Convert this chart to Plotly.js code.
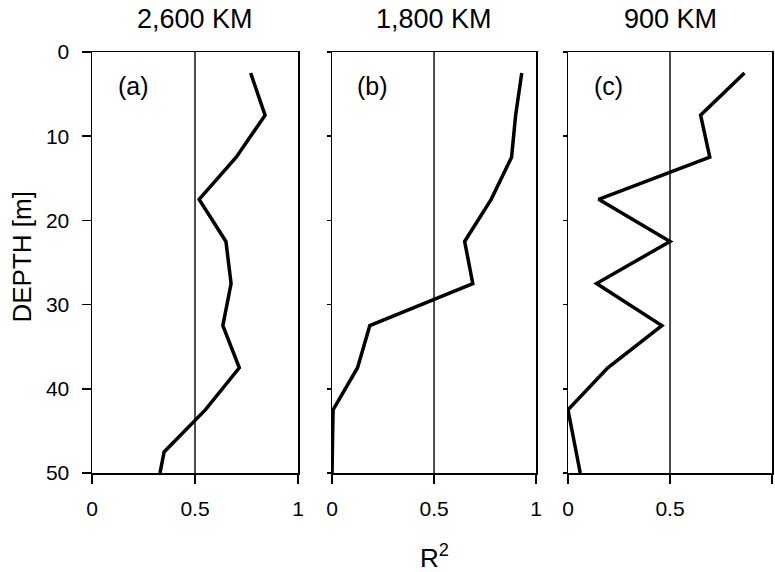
<!DOCTYPE html>
<html>
<head>
<meta charset="utf-8">
<script src="https://cdn.plot.ly/plotly-3.0.1.min.js"></script>
<style>html,body{margin:0;padding:0;background:#fff;}#chart{width:775px;height:572px;}</style>
</head>
<body>
<div id="chart"></div>
<script>
// Depth of each sample [m]
const depth = [2.5, 7.5, 12.5, 17.5, 22.5, 27.5, 32.5, 37.5, 42.5, 47.5, 50];
// R^2 per panel
const r2_2600 = [0.77, 0.84, 0.70, 0.52, 0.65, 0.675, 0.635, 0.715, 0.55, 0.35, 0.33];
const r2_1800 = [0.93, 0.90, 0.88, 0.78, 0.65, 0.69, 0.185, 0.125, 0.005, 0.0, 0.0];
const r2_900  = [0.865, 0.65, 0.695, 0.15, 0.50, 0.14, 0.46, 0.195, 0.0, 0.04, 0.06];
const panelTitles = ["2,600 KM", "1,800 KM", "900 KM"];
const panelLabels = ["(a)", "(b)", "(c)"];
const yTicks = [0, 10, 20, 30, 40, 50];
const xTicks = [0, 0.5, 1];
const xTickText = ["0", "0.5", "1"];
const refR2 = 0.5;

const FONT = "Arial, 'Liberation Sans', Helvetica, sans-serif";
const series = [r2_2600, r2_1800, r2_900];
const domains = [[0, 0.303], [0.353, 0.653], [0.7, 1.0]];

const traces = series.map((vals, i) => ({
  x: vals, y: depth, type: 'scatter', mode: 'lines',
  xaxis: i === 0 ? 'x' : 'x' + (i + 1),
  yaxis: i === 0 ? 'y' : 'y' + (i + 1),
  line: {color: '#000', width: 3.5},
  showlegend: false, hoverinfo: 'skip'
}));

const layout = {
  width: 775, height: 572,
  margin: {l: 92, r: 3, t: 52, b: 99},
  paper_bgcolor: '#fff', plot_bgcolor: '#fff',
  font: {family: FONT, size: 21, color: '#000'},
  showlegend: false,
  annotations: [], shapes: []
};

for (let i = 0; i < 3; i++) {
  const xs = i === 0 ? '' : String(i + 1);
  layout['xaxis' + xs] = {
    domain: domains[i], anchor: 'y' + xs, range: [0, 1],
    tickvals: xTicks, ticktext: xTickText, ticks: 'outside', ticklen: 9, tickwidth: 1.5,
    tickcolor: '#000', showline: true, linecolor: '#000', linewidth: 1.5, mirror: true,
    showgrid: false, zeroline: false, ticklabelstandoff: 7,
    tickfont: {family: FONT, size: 21, color: '#000'}
  };
  layout['yaxis' + xs] = {
    anchor: 'x' + xs, range: [50, 0], tickvals: yTicks,
    showticklabels: i === 0, ticks: 'outside', ticklen: i === 0 ? 9 : 4, tickwidth: 1.5,
    tickcolor: '#000', showline: true, linecolor: '#000', linewidth: 1.5, mirror: true,
    showgrid: false, zeroline: false, ticklabelstandoff: 8,
    tickfont: {family: FONT, size: 21, color: '#000'}
  };
  layout.shapes.push({
    type: 'line', xref: 'x' + xs, yref: 'y' + xs + ' domain',
    x0: refR2, x1: refR2, y0: 0, y1: 1, line: {color: '#000', width: 1.4}
  });
  layout.annotations.push({
    text: panelTitles[i], xref: 'x' + xs + ' domain', yref: 'paper',
    x: 0.5, y: 1, yshift: 33, xanchor: 'center', yanchor: 'middle', showarrow: false,
    font: {family: FONT, size: 27, color: '#000'}
  });
  layout.annotations.push({
    text: panelLabels[i], xref: 'x' + xs + ' domain', yref: 'y' + xs + ' domain',
    x: 0.2, y: 1, yshift: -34, xanchor: 'center', yanchor: 'middle', showarrow: false,
    font: {family: FONT, size: 25, color: '#000'}
  });
}

layout.annotations.push({
  text: 'R<sup>2</sup>', xref: 'x2 domain', yref: 'paper', x: 0.5, y: 0, yshift: -83,
  xanchor: 'center', yanchor: 'middle', showarrow: false,
  font: {family: FONT, size: 26, color: '#000'}
});
layout.annotations.push({
  text: 'DEPTH [m]', xref: 'paper', yref: 'paper', x: 0, xshift: -71, y: 0.5, yshift: 5,
  xanchor: 'center', yanchor: 'middle', textangle: -90, showarrow: false,
  font: {family: FONT, size: 26, color: '#000'}
});

Plotly.newPlot('chart', traces, layout, {staticPlot: true, displayModeBar: false});
</script>
</body>
</html>
